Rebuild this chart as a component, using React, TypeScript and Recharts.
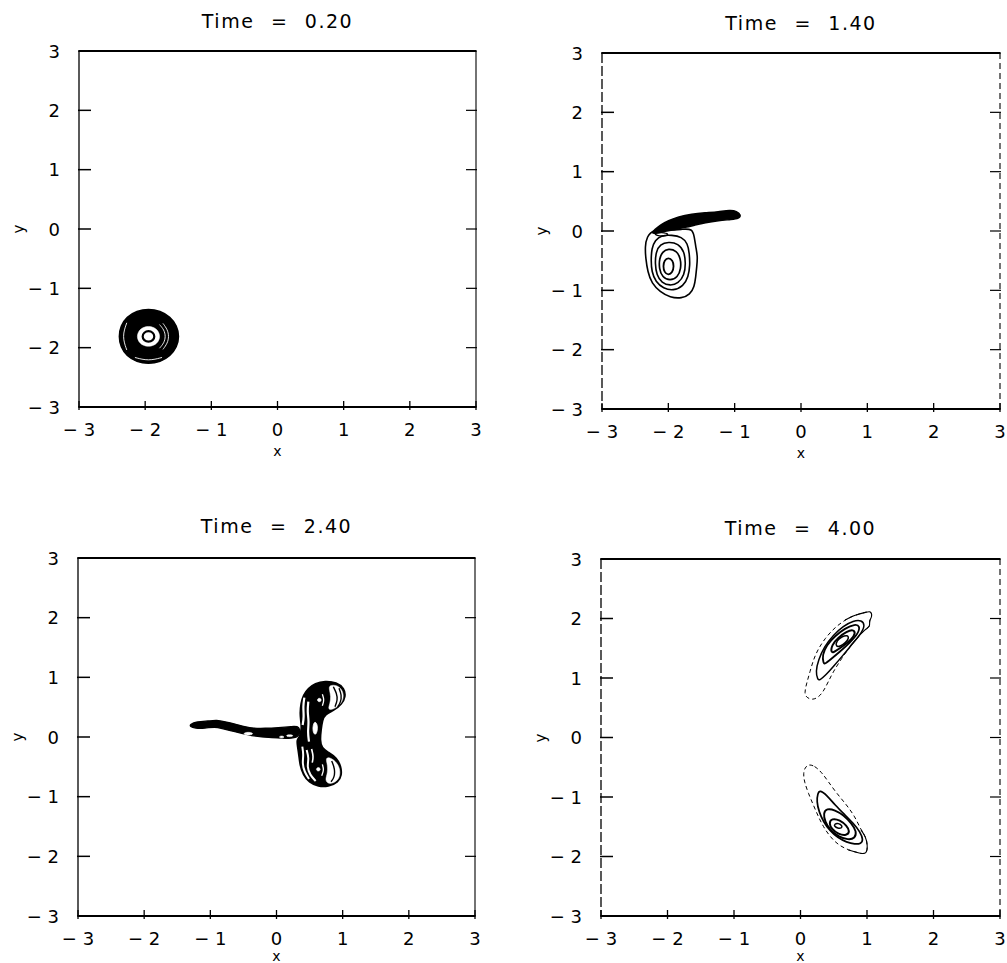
import React from "react";
import { ScatterChart, Scatter, XAxis, YAxis } from "recharts";

type Pt = [number, number];

const axisTicks = [-3, -2, -1, 0, 1, 2, 3];
const panelTitles = ["Time = 0.20", "Time = 1.40", "Time = 2.40", "Time = 4.00"];

// ---- Time = 0.20 : single round vortex ----
const p1Outer: Pt[] = [[-1.485,-1.81],[-1.52,-1.632],[-1.621,-1.481],[-1.772,-1.38],[-1.95,-1.345],[-2.128,-1.38],[-2.279,-1.481],[-2.37,-1.632],[-2.40,-1.81],[-2.37,-1.988],[-2.279,-2.139],[-2.128,-2.24],[-1.95,-2.275],[-1.772,-2.24],[-1.621,-2.139],[-1.52,-1.988]];
const p1Hole: Pt[] = [[-1.775,-1.81],[-1.798,-1.722],[-1.862,-1.658],[-1.95,-1.635],[-2.038,-1.658],[-2.102,-1.722],[-2.125,-1.81],[-2.102,-1.898],[-2.038,-1.962],[-1.95,-1.985],[-1.862,-1.962],[-1.798,-1.898]];
const p1Core: Pt[] = [[-1.853,-1.81],[-1.881,-1.741],[-1.95,-1.713],[-2.019,-1.741],[-2.047,-1.81],[-2.019,-1.879],[-1.95,-1.907],[-1.881,-1.879]];
const p1ArcR1: Pt[] = [[-1.783,-2.009],[-1.714,-1.92],[-1.69,-1.81],[-1.714,-1.70],[-1.783,-1.611]];
const p1ArcR2: Pt[] = [[-1.731,-2.029],[-1.663,-1.926],[-1.64,-1.81],[-1.663,-1.694],[-1.731,-1.591]];
const p1ArcB: Pt[] = [[-2.155,-2.165],[-1.95,-2.225],[-1.745,-2.165]];
const p1ArcL: Pt[] = [[-2.278,-1.581],[-2.35,-1.81],[-2.278,-2.039]];

// ---- Time = 1.40 : vortex with a filament ----
const p2Outer: Pt[] = [[-2.226,0.027],[-2.0,0.015],[-1.798,0.027],[-1.638,0.044],[-1.608,-0.098],[-1.587,-0.266],[-1.557,-0.435],[-1.572,-0.604],[-1.587,-0.772],[-1.608,-0.941],[-1.673,-1.069],[-1.798,-1.137],[-1.974,-1.12],[-2.125,-1.025],[-2.25,-0.884],[-2.311,-0.688],[-2.341,-0.462],[-2.351,-0.266],[-2.326,-0.098]];
const p2Ring2: Pt[] = [[-1.949,-0.069],[-1.798,-0.097],[-1.708,-0.21],[-1.683,-0.378],[-1.673,-0.575],[-1.698,-0.772],[-1.773,-0.929],[-1.924,-1.008],[-2.075,-0.968],[-2.191,-0.856],[-2.251,-0.688],[-2.261,-0.491],[-2.251,-0.294],[-2.201,-0.154],[-2.10,-0.069]];
const p2Ring3: Pt[] = [[-2.0,-0.182],[-1.849,-0.21],[-1.758,-0.35],[-1.738,-0.547],[-1.758,-0.744],[-1.849,-0.884],[-1.974,-0.924],[-2.10,-0.873],[-2.176,-0.744],[-2.201,-0.547],[-2.186,-0.35],[-2.125,-0.227]];
const p2Ring4: Pt[] = [[-2.0,-0.294],[-1.874,-0.333],[-1.814,-0.463],[-1.808,-0.631],[-1.859,-0.783],[-1.974,-0.839],[-2.09,-0.783],[-2.14,-0.631],[-2.135,-0.463],[-2.09,-0.35]];
const p2Ring5: Pt[] = [[-2.0,-0.446],[-1.934,-0.491],[-1.914,-0.592],[-1.939,-0.704],[-2.0,-0.744],[-2.06,-0.699],[-2.08,-0.592],[-2.06,-0.491]];
const p2Tail: Pt[] = [[-2.261,-0.041],[-2.201,0.026],[-2.125,0.10],[-2.0,0.173],[-1.849,0.24],[-1.648,0.285],[-1.446,0.307],[-1.245,0.324],[-1.07,0.352],[-0.969,0.336],[-0.903,0.268],[-0.934,0.212],[-1.044,0.195],[-1.245,0.173],[-1.446,0.139],[-1.597,0.10],[-1.748,0.06],[-1.899,0.026],[-2.05,-0.002],[-2.176,-0.041]];
const p2Notch: Pt[] = [[-2.22,-0.03],[-2.1,-0.02],[-1.98,-0.05],[-2.05,-0.09],[-2.18,-0.08]];

// ---- Time = 2.40 : three-armed structure ----
const p3Body: Pt[] = [[0.733,0.938],[0.909,0.916],[1.025,0.816],[1.045,0.676],[0.985,0.547],[0.874,0.452],[0.733,0.38],[0.693,0.285],[0.673,0.117],[0.657,-0.05],[0.683,-0.19],[0.783,-0.257],[0.909,-0.346],[0.975,-0.497],[0.985,-0.637],[0.934,-0.76],[0.783,-0.832],[0.632,-0.832],[0.491,-0.76],[0.405,-0.637],[0.355,-0.469],[0.34,-0.302],[0.32,-0.162],[0.305,-0.05],[0.355,0.006],[0.38,0.145],[0.37,0.257],[0.355,0.397],[0.37,0.564],[0.405,0.704],[0.481,0.816],[0.582,0.899]];
const p3Tail: Pt[] = [[-1.307,0.212],[-1.207,0.257],[-1.03,0.268],[-0.904,0.285],[-0.778,0.257],[-0.627,0.218],[-0.476,0.173],[-0.35,0.145],[-0.174,0.145],[0.028,0.156],[0.229,0.173],[0.355,0.19],[0.355,0.006],[0.229,-0.022],[0.078,-0.022],[-0.073,-0.011],[-0.224,0.0],[-0.375,0.022],[-0.527,0.061],[-0.678,0.1],[-0.829,0.145],[-0.93,0.173],[-1.081,0.145],[-1.232,0.145],[-1.307,0.173]];
const p3SpotA: Pt[] = [[-0.35,0.056],[-0.388,0.08],[-0.464,0.08],[-0.502,0.056],[-0.464,0.032],[-0.388,0.032]];
const p3SpotB: Pt[] = [[0.118,0],[0.098,0.017],[0.058,0.017],[0.038,0],[0.058,-0.017],[0.098,-0.017]];
const p3SpotC: Pt[] = [[0.254,0.022],[0.226,0.039],[0.171,0.039],[0.144,0.022],[0.171,0.005],[0.226,0.005]];
const p3UpCrescent: Pt[] = [[0.793,0.871],[0.924,0.871],[1.005,0.771],[1.015,0.648],[0.96,0.536],[0.859,0.464],[0.773,0.452],[0.809,0.564],[0.824,0.676],[0.798,0.788]];
const p3UpArc1: Pt[] = [[0.859,0.843],[0.909,0.732],[0.924,0.62],[0.884,0.508]];
const p3UpArc2: Pt[] = [[0.945,0.816],[0.985,0.704],[0.97,0.581],[0.924,0.503]];
const p3UpDot: Pt[] = [[0.682,0.62],[0.665,0.65],[0.63,0.65],[0.612,0.62],[0.63,0.59],[0.665,0.59]];
const p3UpWhite: Pt[] = [[0.693,0.715],[0.723,0.62],[0.693,0.525]];
const p3LowCrescent: Pt[] = [[0.783,-0.33],[0.894,-0.402],[0.96,-0.525],[0.96,-0.665],[0.894,-0.76],[0.783,-0.793],[0.733,-0.721],[0.773,-0.609],[0.773,-0.469],[0.743,-0.369]];
const p3LowArc: Pt[] = [[0.834,-0.402],[0.884,-0.536],[0.874,-0.682],[0.824,-0.749]];
const p3LowDot: Pt[] = [[0.667,-0.542],[0.65,-0.512],[0.615,-0.512],[0.597,-0.542],[0.615,-0.572],[0.65,-0.572]];
const p3LowWhite: Pt[] = [[0.693,-0.458],[0.718,-0.553],[0.683,-0.648]];
const p3Stripe1: Pt[] = [[0.421,0.659],[0.4,0.508],[0.416,0.341],[0.395,0.201]];
const p3Stripe2: Pt[] = [[0.481,0.592],[0.466,0.425],[0.491,0.257],[0.471,0.089],[0.491,-0.078]];
const p3Tear: Pt[] = [[0.582,0.268],[0.622,0.201],[0.617,0.089],[0.582,0.022],[0.547,0.1],[0.552,0.201]];
const p3Stripe3: Pt[] = [[0.39,-0.162],[0.41,-0.302],[0.39,-0.441],[0.421,-0.581],[0.491,-0.704]];
const p3Stripe4: Pt[] = [[0.456,-0.218],[0.491,-0.358],[0.461,-0.497],[0.506,-0.637],[0.592,-0.737]];
const p3Stripe5: Pt[] = [[0.53,-0.2],[0.56,-0.33],[0.54,-0.43]];

// ---- Time = 4.00 : two tilted vortices ----
const p4UpOuter: Pt[] = [[0.995,2.109],[1.06,2.126],[1.08,2.031],[1.03,1.964],[1.05,1.863],[0.97,1.818],[0.87,1.695],[0.744,1.527],[0.619,1.33],[0.493,1.107],[0.418,0.938],[0.343,0.77],[0.268,0.675],[0.178,0.63],[0.092,0.67],[0.057,0.742],[0.092,0.91],[0.143,1.107],[0.193,1.303],[0.258,1.471],[0.368,1.667],[0.519,1.852],[0.669,1.975],[0.819,2.059]];
const p4UpOuterTop: Pt[] = [[0.669,1.975],[0.819,2.059],[0.995,2.109],[1.06,2.126],[1.08,2.031],[1.03,1.964],[1.05,1.863],[0.97,1.818],[0.87,1.695],[0.744,1.527]];
const p4UpC2: Pt[] = [[0.258,0.967],[0.228,1.107],[0.268,1.303],[0.358,1.527],[0.493,1.723],[0.644,1.874],[0.794,1.964],[0.92,1.975],[0.97,1.891],[0.92,1.762],[0.794,1.594],[0.644,1.387],[0.493,1.191],[0.368,1.034],[0.293,0.967]];
const p4UpC3: Pt[] = [[0.343,1.247],[0.328,1.387],[0.393,1.555],[0.519,1.706],[0.669,1.835],[0.819,1.908],[0.895,1.874],[0.87,1.751],[0.744,1.594],[0.594,1.443],[0.443,1.303],[0.368,1.235]];
const p4UpC4: Pt[] = [[0.458,1.415],[0.468,1.555],[0.569,1.684],[0.694,1.779],[0.794,1.818],[0.829,1.751],[0.769,1.65],[0.644,1.538],[0.519,1.443]];
const p4UpC5: Pt[] = [[0.529,1.527],[0.544,1.628],[0.619,1.695],[0.709,1.723],[0.729,1.667],[0.679,1.594],[0.594,1.527]];
const p4LowOuter: Pt[] = [[0.118,-0.451],[0.208,-0.473],[0.318,-0.585],[0.418,-0.742],[0.544,-0.938],[0.694,-1.134],[0.819,-1.33],[0.91,-1.555],[0.98,-1.666],[1.01,-1.807],[0.995,-1.963],[0.895,-1.947],[0.719,-1.891],[0.569,-1.807],[0.443,-1.666],[0.343,-1.498],[0.268,-1.33],[0.193,-1.134],[0.118,-0.938],[0.057,-0.742],[0.042,-0.602],[0.067,-0.507]];
const p4LowOuterEnd: Pt[] = [[0.91,-1.555],[0.98,-1.666],[1.01,-1.807],[0.995,-1.963],[0.895,-1.947],[0.719,-1.891]];
const p4LowC2: Pt[] = [[0.293,-0.882],[0.393,-0.966],[0.519,-1.134],[0.669,-1.302],[0.794,-1.442],[0.895,-1.582],[0.945,-1.722],[0.91,-1.784],[0.819,-1.795],[0.694,-1.762],[0.559,-1.683],[0.443,-1.571],[0.343,-1.414],[0.278,-1.246],[0.243,-1.078],[0.258,-0.938]];
const p4LowC3: Pt[] = [[0.393,-1.19],[0.519,-1.218],[0.644,-1.302],[0.769,-1.442],[0.845,-1.582],[0.819,-1.694],[0.719,-1.722],[0.569,-1.666],[0.443,-1.554],[0.368,-1.414],[0.343,-1.274]];
const p4LowC4: Pt[] = [[0.468,-1.358],[0.594,-1.386],[0.694,-1.482],[0.744,-1.582],[0.694,-1.65],[0.569,-1.627],[0.468,-1.538],[0.428,-1.442]];
const p4LowC5: Pt[] = [[0.509,-1.454],[0.569,-1.437],[0.629,-1.482],[0.619,-1.526],[0.559,-1.526],[0.509,-1.493]];

type Kind = "line" | "fill" | "hole" | "ring" | "white";
type Mark = { pts: Pt[]; kind: Kind; w?: number; open?: boolean; dash?: string };

const marks1: Mark[] = [
  { pts: p1Outer, kind: "fill", w: 1.5 },
  { pts: p1ArcR1, kind: "white", w: 0.9, open: true },
  { pts: p1ArcR2, kind: "white", w: 0.9, open: true },
  { pts: p1ArcB, kind: "white", w: 0.9, open: true },
  { pts: p1ArcL, kind: "white", w: 0.9, open: true },
  { pts: p1Hole, kind: "hole", w: 0.5 },
  { pts: p1Core, kind: "ring", w: 2.2 },
];

const marks2: Mark[] = [
  { pts: p2Outer, kind: "line", w: 1.6 },
  { pts: p2Ring2, kind: "line", w: 1.6 },
  { pts: p2Ring3, kind: "line", w: 1.6 },
  { pts: p2Ring4, kind: "line", w: 1.7 },
  { pts: p2Ring5, kind: "line", w: 1.8 },
  { pts: p2Tail, kind: "fill", w: 1.5 },
  { pts: p2Notch, kind: "line", w: 1.3 },
];

const marks3: Mark[] = [
  { pts: p3Body, kind: "fill", w: 1.8 },
  { pts: p3Tail, kind: "fill", w: 1.3 },
  { pts: p3SpotA, kind: "hole", w: 0.5 },
  { pts: p3SpotB, kind: "hole", w: 0.5 },
  { pts: p3SpotC, kind: "hole", w: 0.5 },
  { pts: p3UpCrescent, kind: "hole", w: 0.5 },
  { pts: p3UpArc1, kind: "line", w: 1.4, open: true },
  { pts: p3UpArc2, kind: "line", w: 1.4, open: true },
  { pts: p3UpDot, kind: "hole", w: 0.5 },
  { pts: p3UpWhite, kind: "white", w: 1.3, open: true },
  { pts: p3LowCrescent, kind: "hole", w: 0.5 },
  { pts: p3LowArc, kind: "line", w: 1.4, open: true },
  { pts: p3LowDot, kind: "hole", w: 0.5 },
  { pts: p3LowWhite, kind: "white", w: 1.3, open: true },
  { pts: p3Stripe1, kind: "white", w: 2.2, open: true },
  { pts: p3Stripe2, kind: "white", w: 2.2, open: true },
  { pts: p3Tear, kind: "hole", w: 0.8 },
  { pts: p3Stripe3, kind: "white", w: 2, open: true },
  { pts: p3Stripe4, kind: "white", w: 2, open: true },
  { pts: p3Stripe5, kind: "white", w: 1.6, open: true },
];

const marks4: Mark[] = [
  { pts: p4UpOuter, kind: "line", w: 1, dash: "4 3" },
  { pts: p4UpOuterTop, kind: "line", w: 1.1, open: true },
  { pts: p4UpC2, kind: "line", w: 1.5 },
  { pts: p4UpC3, kind: "line", w: 1.8 },
  { pts: p4UpC4, kind: "line", w: 2 },
  { pts: p4UpC5, kind: "line", w: 1.5 },
  { pts: p4LowOuter, kind: "line", w: 1, dash: "4 3" },
  { pts: p4LowOuterEnd, kind: "line", w: 1.1, open: true },
  { pts: p4LowC2, kind: "line", w: 1.7 },
  { pts: p4LowC3, kind: "line", w: 1.9 },
  { pts: p4LowC4, kind: "line", w: 2 },
  { pts: p4LowC5, kind: "line", w: 1.5 },
];

const FONT = "'DejaVu Sans', sans-serif";

const toXY = (pts: Pt[]) => pts.map(([x, y]) => ({ x, y }));
const noDot = () => <g />;
const fmt = (v: number) => (v < 0 ? `\u2212 ${-v}` : `${v}`);

function lineProps(m: Mark) {
  const w = m.w ?? 1.5;
  switch (m.kind) {
    case "fill":
      return { stroke: "#000", fill: "#000", strokeWidth: w };
    case "hole":
      return { stroke: "#fff", fill: "#fff", strokeWidth: w };
    case "ring":
      return { stroke: "#000", fill: "#fff", strokeWidth: w };
    case "white":
      return { stroke: "#fff", fill: "none", strokeWidth: w };
    default:
      return { stroke: "#000", fill: "none", strokeWidth: w, strokeDasharray: m.dash };
  }
}

// custom ticks: tickSize and tickMargin are 0, so x / y is the point on the axis line
const BottomTick = (props: any) => {
  const { x, y, payload } = props;
  return (
    <g>
      <line x1={x} x2={x} y1={y - 6} y2={y + 3} stroke="#000" strokeWidth={1.3} />
      <text x={x} y={y + 29} textAnchor="middle" fontSize={18} fontFamily={FONT} fill="#000">
        {fmt(payload.value)}
      </text>
    </g>
  );
};

const LeftTick = (props: any) => {
  const { x, y, payload } = props;
  return (
    <g>
      <line x1={x - 1} x2={x + 12} y1={y} y2={y} stroke="#000" strokeWidth={1.5} />
      <text x={x - 19} y={y + 6.5} textAnchor="end" fontSize={18} fontFamily={FONT} fill="#000">
        {fmt(payload.value)}
      </text>
    </g>
  );
};

const TopTick = (props: any) => {
  const { x, y } = props;
  return <line x1={x} x2={x} y1={y} y2={y + 8} stroke="#000" strokeWidth={1.2} />;
};

const RightTick = (props: any) => {
  const { x, y } = props;
  return <line x1={x - 10} x2={x + 1} y1={y} y2={y} stroke="#000" strokeWidth={1.2} />;
};

type PanelProps = {
  box: [number, number, number, number];
  title: string;
  titleY: number;
  xLabelY: number;
  marks: Mark[];
  dashedSides?: boolean;
};

const ML = 79;
const MT = 51;
const MR = 12;
const MB = 60;

function Panel({ box, title, titleY, xLabelY, marks, dashedSides }: PanelProps) {
  const [l, t, r, b] = box;
  const w = r - l;
  const h = b - t;
  const cx = l + w / 2;
  const sideLine = { stroke: "#000", strokeWidth: 1.3, strokeDasharray: dashedSides ? "10 3" : undefined };
  const rightLine = { stroke: "#000", strokeWidth: 1.1, strokeDasharray: dashedSides ? "6 4" : undefined };
  return (
    <>
      <div
        style={{ position: "absolute", left: cx - 150, width: 300, top: titleY - 10, textAlign: "center", fontSize: 19, lineHeight: "20px", letterSpacing: 1.5, wordSpacing: 9, fontFamily: FONT }}
      >
        {title}
      </div>
      <div style={{ position: "absolute", left: cx - 10, width: 20, top: xLabelY - 5, height: 10, textAlign: "center", fontSize: 14, lineHeight: "10px", fontFamily: FONT }}>
        x
      </div>
      <div
        style={{ position: "absolute", left: l - 70, width: 20, top: t + h / 2 - 10, height: 20, lineHeight: "20px", textAlign: "center", fontSize: 15, fontFamily: FONT, transform: "rotate(-90deg)" }}
      >
        y
      </div>
      <div style={{ position: "absolute", left: l - ML, top: t - MT }}>
        <ScatterChart width={w + ML + MR} height={h + MT + MB} margin={{ top: MT - 1, right: MR - 1, bottom: 0, left: 0 }}>
          <XAxis
            xAxisId="b"
            type="number"
            dataKey="x"
            domain={[-3, 3]}
            ticks={axisTicks}
            interval={0}
            allowDataOverflow
            height={MB}
            tickSize={0}
            tickMargin={0}
            tickLine={false}
            tick={BottomTick}
            axisLine={{ stroke: "#000", strokeWidth: 2 }}
          />
          <XAxis
            xAxisId="t"
            orientation="top"
            type="number"
            domain={[-3, 3]}
            ticks={axisTicks}
            interval={0}
            allowDataOverflow
            height={1}
            tickSize={0}
            tickMargin={0}
            tickLine={false}
            tick={TopTick}
            axisLine={{ stroke: "#000", strokeWidth: 2 }}
          />
          <YAxis
            yAxisId="l"
            type="number"
            dataKey="y"
            domain={[-3, 3]}
            ticks={axisTicks}
            interval={0}
            allowDataOverflow
            width={ML}
            tickSize={0}
            tickMargin={0}
            tickLine={false}
            tick={LeftTick}
            axisLine={sideLine}
          />
          <YAxis
            yAxisId="r"
            orientation="right"
            type="number"
            domain={[-3, 3]}
            ticks={axisTicks}
            interval={0}
            allowDataOverflow
            width={1}
            tickSize={0}
            tickMargin={0}
            tickLine={false}
            tick={RightTick}
            axisLine={rightLine}
          />
          {marks.map((m, i) => (
            <Scatter
              key={i}
              xAxisId="b"
              yAxisId="l"
              data={toXY(m.pts)}
              shape={noDot}
              line={lineProps(m)}
              lineJointType={m.open ? "basis" : "basisClosed"}
              legendType="none"
              isAnimationActive={false}
            />
          ))}
        </ScatterChart>
      </div>
    </>
  );
}

export default function App() {
  return (
    <div style={{ position: "absolute", left: 0, top: 0, width: 1007, height: 963, background: "#fff", overflow: "hidden" }}>
      <Panel box={[79, 51, 476, 407]} title={panelTitles[0]} titleY={21} xLabelY={451} marks={marks1} />
      <Panel box={[602, 53, 1000, 409]} title={panelTitles[1]} titleY={23} xLabelY={453} marks={marks2} dashedSides />
      <Panel box={[78, 558, 475, 916]} title={panelTitles[2]} titleY={526} xLabelY={956} marks={marks3} />
      <Panel box={[601, 559, 1000, 916]} title={panelTitles[3]} titleY={528} xLabelY={956} marks={marks4} dashedSides />
    </div>
  );
}
